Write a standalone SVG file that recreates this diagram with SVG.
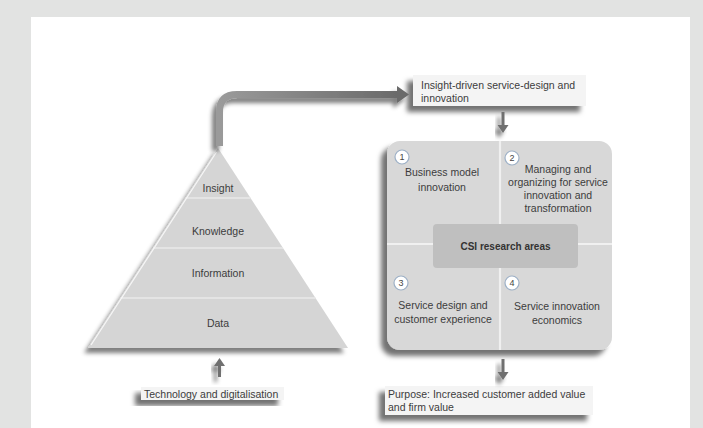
<svg xmlns="http://www.w3.org/2000/svg" width="703" height="428" viewBox="0 0 703 428">
  <defs>
    <style>
      .lbl { font-family: "Liberation Sans", Arial, sans-serif; font-size: 10.5px; fill: #3c3c3c; }
      .mid { text-anchor: middle; }
      .bold { font-weight: bold; font-size: 10px; fill: #333; }
      .layer { fill: #d5d5d5; }
      .sep { stroke: #e8e8e8; stroke-width: 1.5; }
      .note { fill: #f4f4f4; }
      .div { stroke: #f0f0f0; stroke-width: 2.2; }
      .num { fill: #ffffff; stroke: #9db0c6; stroke-width: 1.2; }
      .numtxt { font-family: "Liberation Sans", Arial, sans-serif; font-size: 9px; fill: #444; text-anchor: middle; }
      .arr { fill: #6f6f6f; }
    </style>
    <filter id="shadow" x="-20%" y="-20%" width="140%" height="160%">
      <feGaussianBlur in="SourceAlpha" stdDeviation="2.5"/>
      <feOffset dx="-6" dy="6" result="o"/>
      <feFlood flood-color="#000" flood-opacity="0.55"/>
      <feComposite in2="o" operator="in"/>
      <feMerge><feMergeNode/><feMergeNode in="SourceGraphic"/></feMerge>
    </filter>
    <filter id="shadowSoft" x="-20%" y="-20%" width="140%" height="160%">
      <feGaussianBlur in="SourceAlpha" stdDeviation="2"/>
      <feOffset dx="-4" dy="5" result="o"/>
      <feFlood flood-color="#000" flood-opacity="0.5"/>
      <feComposite in2="o" operator="in"/>
      <feMerge><feMergeNode/><feMergeNode in="SourceGraphic"/></feMerge>
    </filter>
    <linearGradient id="bend" x1="0" y1="0" x2="1" y2="0">
      <stop offset="0" stop-color="#9a9a9a"/>
      <stop offset="1" stop-color="#6a6a6a"/>
    </linearGradient>
  </defs>

  <!-- frame and page -->
  <rect x="0" y="0" width="703" height="428" fill="#e2e3e2"/>
  <rect x="31" y="17" width="659" height="411" fill="#ffffff"/>

  <!-- pyramid -->
  <g id="pyramid" filter="url(#shadowSoft)">
    <polygon class="layer" points="218,148 88,348 348,348"/>
  </g>
  <g id="pyramid-lines">
    <line class="sep" x1="185.5" y1="198" x2="250.5" y2="198"/>
    <line class="sep" x1="153" y1="248" x2="283" y2="248"/>
    <line class="sep" x1="120.5" y1="298" x2="315.5" y2="298"/>
    <line x1="216.5" y1="152" x2="91" y2="345" stroke="#f6f6f6" stroke-width="1.3"/>
  </g>
  <g id="layer-insight"><text class="lbl mid" x="218" y="191.5">Insight</text></g>
  <g id="layer-knowledge"><text class="lbl mid" x="218" y="234.5">Knowledge</text></g>
  <g id="layer-information"><text class="lbl mid" x="218" y="277">Information</text></g>
  <g id="layer-data"><text class="lbl mid" x="218" y="326.5">Data</text></g>

  <!-- top note -->
  <g id="box-insight-driven" filter="url(#shadow)">
    <rect class="note" x="413" y="75" width="173" height="31"/>
  </g>
  <g>
    <text class="lbl" x="421" y="88.5">Insight-driven service-design and</text>
    <text class="lbl" x="421" y="101.5">innovation</text>
  </g>

  <!-- research areas panel -->
  <g id="research-areas">
    <rect x="387" y="141" width="225" height="209" rx="13" fill="#d8d8d8" filter="url(#shadow)"/>
    <line class="div" x1="500" y1="141" x2="500" y2="350"/>
    <line class="div" x1="387" y1="244" x2="612" y2="244"/>
    <rect x="433" y="224" width="145" height="44" rx="4" fill="#bfbfbf"/>
    <text class="lbl mid bold" x="505.5" y="249.5">CSI research areas</text>
  </g>

  <g id="area-1">
    <circle class="num" cx="402" cy="157" r="7"/>
    <text class="numtxt" x="402" y="160.2">1</text>
    <text class="lbl mid" x="442" y="176">Business model</text>
    <text class="lbl mid" x="442" y="190.5">innovation</text>
  </g>
  <g id="area-2">
    <circle class="num" cx="512" cy="158" r="7"/>
    <text class="numtxt" x="512" y="161.2">2</text>
    <text class="lbl mid" x="558" y="172.5">Managing and</text>
    <text class="lbl mid" x="558" y="185.5">organizing for service</text>
    <text class="lbl mid" x="558" y="198.5">innovation and</text>
    <text class="lbl mid" x="558" y="211.5">transformation</text>
  </g>
  <g id="area-3">
    <circle class="num" cx="401" cy="283" r="7"/>
    <text class="numtxt" x="401" y="286.2">3</text>
    <text class="lbl mid" x="443" y="308.5">Service design and</text>
    <text class="lbl mid" x="443" y="323">customer experience</text>
  </g>
  <g id="area-4">
    <circle class="num" cx="512" cy="283" r="7"/>
    <text class="numtxt" x="512" y="286.2">4</text>
    <text class="lbl mid" x="557" y="309.5">Service innovation</text>
    <text class="lbl mid" x="557" y="323.5">economics</text>
  </g>

  <!-- bottom notes -->
  <g id="box-purpose" filter="url(#shadow)">
    <rect class="note" x="385" y="386" width="208" height="29"/>
  </g>
  <g>
    <text class="lbl" x="388" y="398">Purpose: Increased customer added value</text>
    <text class="lbl" x="388" y="410.5">and firm value</text>
  </g>

  <g id="box-technology" filter="url(#shadow)">
    <rect class="note" x="141" y="387" width="143" height="13"/>
  </g>
  <g>
    <text class="lbl" x="144" y="397.5">Technology and digitalisation</text>
  </g>

  <!-- connectors -->
  <g id="connectors">
    <g filter="url(#shadowSoft)">
      <path d="M219.5 146 V112 Q219.5 94.5 237 94.5 H399" fill="none" stroke="url(#bend)" stroke-width="7"/>
      <polygon points="397,86 409,94.5 397,103" fill="#6a6a6a"/>
    </g>
    <g filter="url(#shadowSoft)">
      <rect class="arr" x="501.5" y="112" width="3" height="14"/>
      <polygon class="arr" points="497.5,125 508.5,125 503,133"/>
    </g>
    <g filter="url(#shadowSoft)">
      <rect class="arr" x="501.5" y="359" width="3" height="14"/>
      <polygon class="arr" points="497.5,372 508.5,372 503,380"/>
    </g>
    <g filter="url(#shadowSoft)">
      <rect class="arr" x="218" y="365" width="3" height="12"/>
      <polygon class="arr" points="214,366 225,366 219.5,358"/>
    </g>
  </g>
</svg>
